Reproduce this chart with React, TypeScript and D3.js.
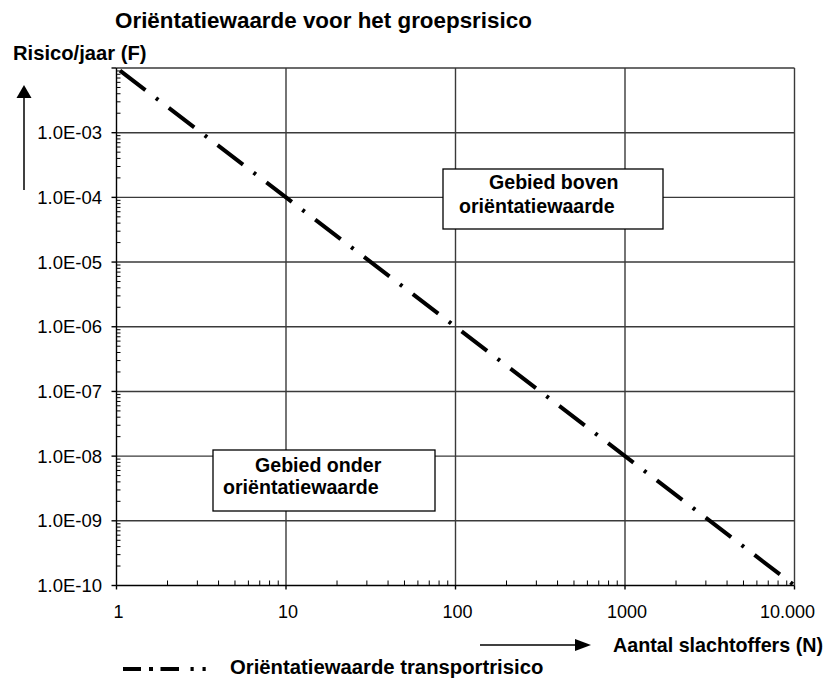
import React from "react";
import * as d3 from "d3";

const slachtoffers = [1, 10, 100, 1000, 10000];
const risico = [1e-2, 1e-4, 1e-6, 1e-8, 1e-10];
const xTickValues = [1, 10, 100, 1000, 10000];
const xTickLabels = ["1", "10", "100", "1000", "10.000"];
const yTickValues = [1e-3, 1e-4, 1e-5, 1e-6, 1e-7, 1e-8, 1e-9, 1e-10];
const yTickLabels = ["1.0E-03", "1.0E-04", "1.0E-05", "1.0E-06", "1.0E-07", "1.0E-08", "1.0E-09", "1.0E-10"];
const titleText = "Oriëntatiewaarde voor het groepsrisico";
const yTitle = "Risico/jaar (F)";
const xTitle = "Aantal slachtoffers (N)";
const legendText = "Oriëntatiewaarde transportrisico";
const boxAbove = ["Gebied boven", "oriëntatiewaarde"];
const boxBelow = ["Gebied onder", "oriëntatiewaarde"];

const FONT = "'Liberation Sans', Arial, sans-serif";

export default function App() {
  const W = 828, H = 681;
  const x = d3.scaleLog().domain([1, 10000]).range([116.5, 794.5]);
  const y = d3.scaleLog().domain([1e-10, 1e-2]).range([585.5, 68]);

  const pts = slachtoffers.map((n, i) => [x(n), y(risico[i])] as [number, number]);
  const lineGen = d3.line();

  const xMinor: number[] = [];
  for (let d = 1; d < 10000; d *= 10) for (let k = 2; k <= 9; k++) xMinor.push(d * k);
  const yMinor: number[] = [];
  for (let d = 1e-10; d < 1e-2 * 0.99; d *= 10) for (let k = 2; k <= 9; k++) yMinor.push(d * k);

  const xDecades = [10, 100, 1000, 10000];
  const yDecades = [1e-9, 1e-8, 1e-7, 1e-6, 1e-5, 1e-4, 1e-3, 1e-2];
  const gridColor = "#3a3a3a";
  const last = xTickValues.length - 1;

  return (
    <svg width={W} height={H} style={{ position: "absolute", left: 0, top: 0, background: "#fff" }} fontFamily={FONT}>
      <rect x={0} y={0} width={W} height={H} fill="#fff" />
      {/* gridlines */}
      {xDecades.map((v) => (
        <line key={"gx" + v} x1={x(v)} x2={x(v)} y1={y(1e-2)} y2={y(1e-10)} stroke={gridColor} strokeWidth={1.4} />
      ))}
      {yDecades.map((v) => (
        <line key={"gy" + v} x1={x(1)} x2={x(10000)} y1={y(v)} y2={y(v)} stroke={gridColor} strokeWidth={1.4} />
      ))}
      {/* axes */}
      <line x1={x(1)} x2={x(1)} y1={y(1e-2)} y2={y(1e-10)} stroke="#000" strokeWidth={1.4} />
      <line x1={x(1)} x2={x(10000)} y1={y(1e-10)} y2={y(1e-10)} stroke="#000" strokeWidth={1.4} />
      {/* minor ticks */}
      {xMinor.map((v) => (
        <line key={"mx" + v} x1={x(v)} x2={x(v)} y1={y(1e-10)} y2={y(1e-10) - 5} stroke="#000" strokeWidth={1} />
      ))}
      {yMinor.map((v) => (
        <line key={"my" + v} x1={x(1)} x2={x(1) + 4} y1={y(v)} y2={y(v)} stroke="#000" strokeWidth={1} />
      ))}
      {/* major ticks */}
      {xTickValues.map((v) => (
        <line key={"Mx" + v} x1={x(v)} x2={x(v)} y1={y(1e-10)} y2={y(1e-10) + 4} stroke="#000" strokeWidth={1.4} />
      ))}
      {[...yTickValues, 1e-2].map((v) => (
        <line key={"My" + v} x1={x(1) - 5} x2={x(1)} y1={y(v)} y2={y(v)} stroke="#000" strokeWidth={1.4} />
      ))}
      {/* tick labels */}
      {yTickValues.map((v, i) => (
        <text key={"ly" + v} x={102} y={y(v)} dy="0.36em" textAnchor="end" fontSize={18.5} fill="#000">
          {yTickLabels[i]}
        </text>
      ))}
      {xTickValues.map((v, i) => (
        <text
          key={"lx" + v}
          x={i === last ? x(v) - 7 : x(v) + 2}
          y={618}
          textAnchor="middle"
          fontSize={18}
          fill="#000"
        >
          {xTickLabels[i]}
        </text>
      ))}
      {/* boxes */}
      <rect x={443} y={169} width={220} height={60} fill="#fff" stroke="#000" strokeWidth={1.3} />
      <text x={489} y={189} fontSize={19.6} fontWeight="bold">{boxAbove[0]}</text>
      <text x={459} y={213} fontSize={19.6} fontWeight="bold">{boxAbove[1]}</text>
      <rect x={213} y={450} width={222} height={61} fill="#fff" stroke="#000" strokeWidth={1.3} />
      <text x={255} y={472} fontSize={19.6} fontWeight="bold">{boxBelow[0]}</text>
      <text x={223} y={494} fontSize={19.6} fontWeight="bold">{boxBelow[1]}</text>
      {/* data line */}
      <path
        d={lineGen(pts) || ""}
        fill="none"
        stroke="#000"
        strokeWidth={4}
        strokeDasharray="32 13.2 3 13.2"
        strokeDashoffset={57}
      />
      {/* titles */}
      <text x={115} y={28} fontSize={22.4} fontWeight="bold">{titleText}</text>
      <text x={13} y={60} fontSize={20.2} fontWeight="bold">{yTitle}</text>
      {/* y arrow */}
      <line x1={24} x2={24} y1={190} y2={96} stroke="#000" strokeWidth={1.5} />
      <path d="M24,85 L16.5,98 L31.5,98 Z" fill="#000" />
      {/* x arrow */}
      <line x1={480} x2={578} y1={645} y2={645} stroke="#000" strokeWidth={1.5} />
      <path d="M591,645 L575,639 L575,651 Z" fill="#000" />
      <text x={613} y={652} fontSize={19.7} fontWeight="bold">{xTitle}</text>
      {/* legend */}
      <line x1={123} x2={206} y1={669} y2={669} stroke="#000" strokeWidth={4} strokeDasharray="18 8 4 7.5 18.5 11.5 3.2 8.8 3.2" />
      <text x={230} y={674} fontSize={20.3} fontWeight="bold">{legendText}</text>
    </svg>
  );
}
